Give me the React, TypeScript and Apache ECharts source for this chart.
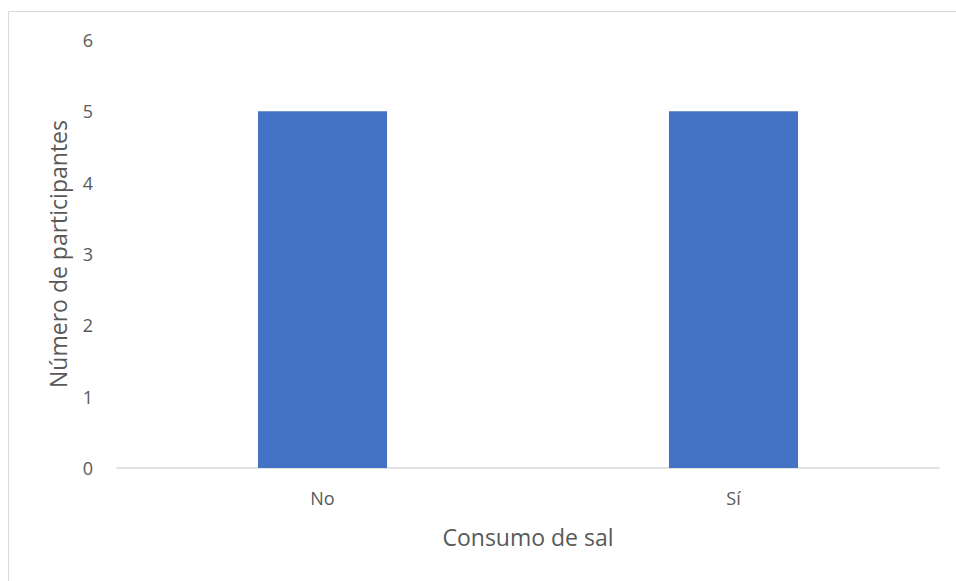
import React, { useEffect, useRef } from "react";
import * as echarts from "echarts";

const categories = ["No", "Sí"];
const values = [5, 5];
const yTicks = [0, 1, 2, 3, 4, 5, 6];

const FONT = "'Open Sans', sans-serif";

export default function App() {
  const ref = useRef<HTMLDivElement>(null);
  useEffect(() => {
    if (!ref.current) return;
    const chart = echarts.init(ref.current, undefined, { renderer: "svg" });
    chart.setOption({
      animation: false,
      backgroundColor: "#ffffff",
      textStyle: { fontFamily: FONT },
      graphic: [
        {
          type: "rect",
          shape: { x: 8.5, y: 11.5, width: 1200, height: 1200 },
          style: { fill: "none", stroke: "#d9d9d9", lineWidth: 1 },
          silent: true,
        },
      ],
      grid: { left: 117, right: 17, top: 40, bottom: 113 },
      xAxis: {
        type: "category",
        data: categories,
        name: "Consumo de sal",
        nameLocation: "middle",
        nameGap: 57,
        nameTextStyle: { fontSize: 23, color: "#595959", fontFamily: FONT },
        axisLine: { show: true, lineStyle: { color: "#d9d9d9", width: 1.5 } },
        axisTick: { show: false },
        axisLabel: { fontSize: 18, color: "#595959", margin: 21, fontFamily: FONT },
      },
      yAxis: {
        type: "value",
        min: yTicks[0],
        max: yTicks[yTicks.length - 1],
        interval: 1,
        name: "Número de participantes",
        nameLocation: "middle",
        nameGap: 48,
        nameTextStyle: { fontSize: 23, color: "#595959", fontFamily: FONT },
        axisLine: { show: false },
        axisTick: { show: false },
        splitLine: { show: false },
        axisLabel: { fontSize: 18, color: "#595959", margin: 24, fontFamily: FONT },
      },
      series: [
        {
          type: "bar",
          data: values,
          barWidth: "31.4%",
          itemStyle: { color: "#4472c4" },
        },
      ],
    });
    return () => chart.dispose();
  }, []);
  return (
    <div
      ref={ref}
      style={{ position: "fixed", left: 0, top: 0, width: 956, height: 581 }}
    />
  );
}
